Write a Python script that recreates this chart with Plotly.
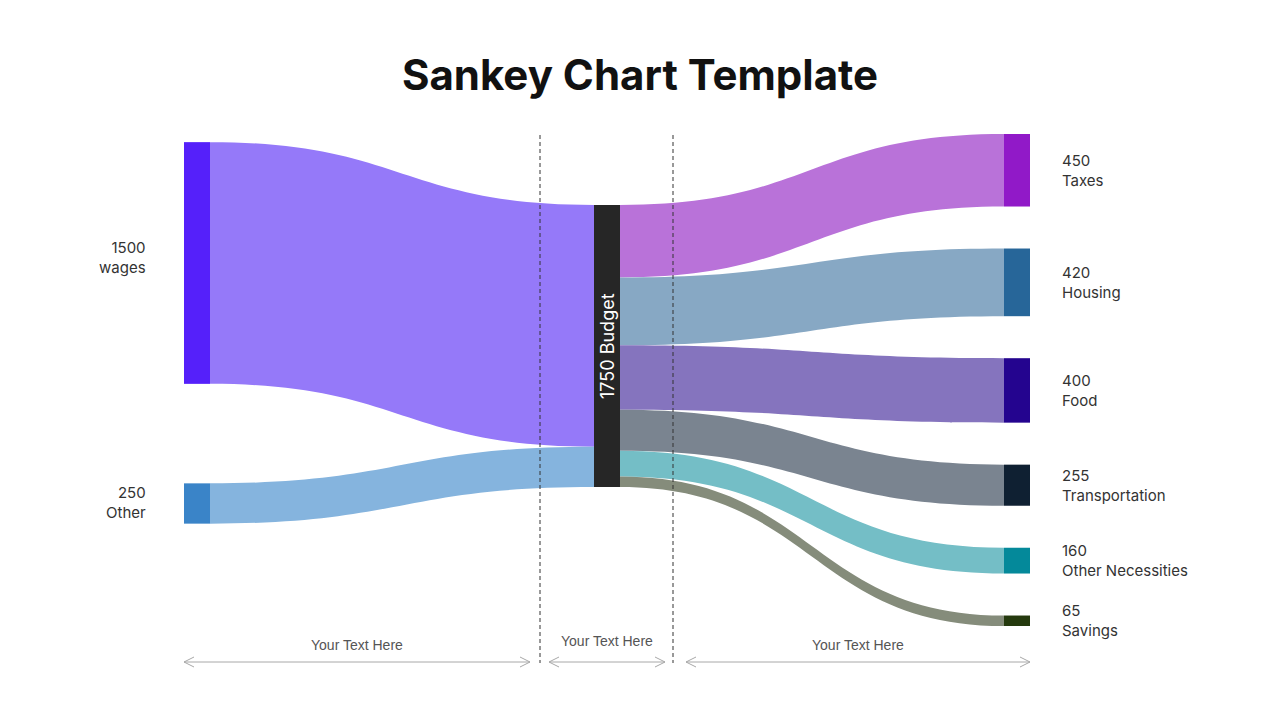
import plotly.graph_objects as go

# ---------------- data ----------------
node_names = ["wages", "Other", "Budget", "Taxes", "Housing", "Food",
              "Transportation", "Other Necessities", "Savings"]
source_idx = [0, 1, 2, 2, 2, 2, 2, 2]
target_idx = [2, 2, 3, 4, 5, 6, 7, 8]
link_values = [1500, 250, 450, 420, 400, 255, 160, 65]

node_colors = ["#5520FA", "#3A84C8", "#262626", "#9119C8", "#276699",
               "#24048F", "#0F2032", "#04899A", "#253A0E"]
link_colors = ["#9579F9", "#85B4DE", "#B972D9", "#87A8C4", "#8574BE",
               "#7A8490", "#74BEC6", "#858C7B"]

bottom_texts = ["Your Text Here", "Your Text Here", "Your Text Here"]

# node totals
node_values = []
for i in range(len(node_names)):
    out_v = sum(v for s, v in zip(source_idx, link_values) if s == i)
    in_v = sum(v for t, v in zip(target_idx, link_values) if t == i)
    node_values.append(max(out_v, in_v))

# ---------------- layout geometry ----------------
W, H = 1280, 720
dom_px_x = (184, 1030)
dom_px_y = (134, 626)          # top, bottom in pixels
dom_w = dom_px_x[1] - dom_px_x[0]
dom_h = dom_px_y[1] - dom_px_y[0]
thick = 26
pad = 42

col_px = {0: 197, 1: 607, 2: 1017}
node_col = [0, 0, 1, 2, 2, 2, 2, 2, 2]

# vertical positions (fractions of domain, from top)
right_nodes = [3, 4, 5, 6, 7, 8]
ky = (dom_h - pad * (len(right_nodes) - 1)) / sum(node_values[i] for i in right_nodes)
ny = [0.0] * len(node_names)
top = 0.0
for i in right_nodes:
    h = node_values[i] * ky
    ny[i] = (top + h / 2) / dom_h
    top += h + pad
ny[0] = (263 - dom_px_y[0]) / dom_h
ny[1] = (503.5 - dom_px_y[0]) / dom_h
ny[2] = (346 - dom_px_y[0]) / dom_h
nx = [(col_px[c] - dom_px_x[0]) / dom_w for c in node_col]

# label vertical offsets (pixels) relative to node centre
label_dy = [-6, -1, 0, 0, 0, 0, 0, 0, 0]

fig = go.Figure(go.Sankey(
    arrangement="snap",
    domain=dict(x=[dom_px_x[0] / W, dom_px_x[1] / W],
                y=[1 - dom_px_y[1] / H, 1 - dom_px_y[0] / H]),
    node=dict(label=[""] * len(node_names), color=node_colors,
              x=nx, y=ny, pad=pad, thickness=thick,
              line=dict(width=0), hoverinfo="none"),
    link=dict(source=source_idx, target=target_idx, value=link_values,
              color=link_colors, hoverinfo="none"),
))


def py(frac, dy=0):
    """sankey fraction from top -> paper y"""
    return 1 - (dom_px_y[0] + frac * dom_h + dy) / H


annotations = []
label_font = dict(family="Inter, Noto Sans, sans-serif", size=15, color="#333333")
for i, name in enumerate(node_names):
    c = node_col[i]
    txt = f"{node_values[i]}<br>{name}"
    if c == 0:
        annotations.append(dict(x=148 / W, y=py(ny[i], label_dy[i]), xref="paper", yref="paper",
                                text=txt, showarrow=False, xanchor="right",
                                yanchor="middle", align="right", font=label_font))
    elif c == 2:
        annotations.append(dict(x=1060 / W, y=py(ny[i], label_dy[i]), xref="paper", yref="paper",
                                text=txt, showarrow=False, xanchor="left",
                                yanchor="middle", align="left", font=label_font))
    else:
        annotations.append(dict(x=col_px[c] / W, y=py(ny[i]), xref="paper", yref="paper",
                                text=f"{node_values[i]} {name}", showarrow=False,
                                textangle=-90, xanchor="center", yanchor="middle",
                                font=dict(family="Inter, Noto Sans, sans-serif",
                                          size=18, color="white")))

# bottom arrows and texts
shapes = []
arrow_spans = [(184, 530, 645), (549, 665, 641), (686, 1030, 645)]
ay = 662
gray = "#A8A8A8"
for (x0, x1, ty), t in zip(arrow_spans, bottom_texts):
    path = (f"M {x0/W},{1-ay/H} L {x1/W},{1-ay/H} "
            f"M {(x0+10)/W},{1-(ay-5)/H} L {x0/W},{1-ay/H} L {(x0+10)/W},{1-(ay+5)/H} "
            f"M {(x1-10)/W},{1-(ay-5)/H} L {x1/W},{1-ay/H} L {(x1-10)/W},{1-(ay+5)/H}")
    shapes.append(dict(type="path", xref="paper", yref="paper", path=path,
                       line=dict(color=gray, width=1)))
    annotations.append(dict(x=(x0 + x1) / 2 / W, y=1 - ty / H, xref="paper", yref="paper",
                            text=t, showarrow=False, xanchor="center", yanchor="middle",
                            font=dict(family="Liberation Sans, Arial, sans-serif",
                                      size=14, color="#555555")))

for xd in (540, 673):
    shapes.append(dict(type="line", xref="paper", yref="paper",
                       x0=xd / W, x1=xd / W, y0=1 - 135 / H, y1=1 - 663 / H,
                       line=dict(color="#333333", width=1, dash="4px,3px")))

fig.update_layout(
    width=W, height=H,
    margin=dict(l=0, r=0, t=0, b=0),
    paper_bgcolor="white", plot_bgcolor="white",
    title=dict(text="<b>Sankey Chart Template</b>", x=0.5, xanchor="center",
               y=1 - 75 / H, yanchor="middle",
               font=dict(family="Inter, Roboto, sans-serif", size=42, color="#111111")),
    annotations=annotations, shapes=shapes,
    font=dict(family="Inter, sans-serif"),
)

fig.write_html("out.html")
